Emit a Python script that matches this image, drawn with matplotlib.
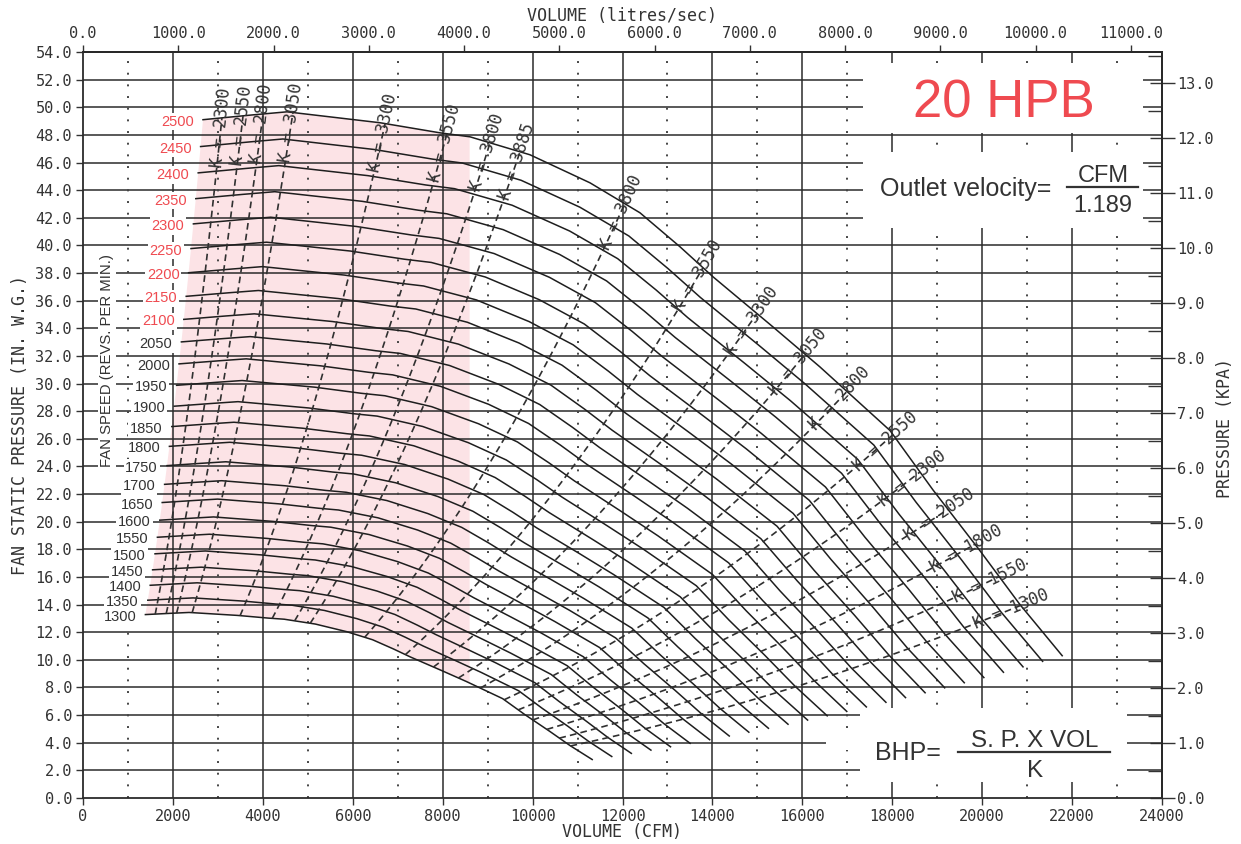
import numpy as np
import matplotlib
matplotlib.use("Agg")
import matplotlib.pyplot as plt
from matplotlib.patches import Polygon, Rectangle
from matplotlib.ticker import FormatStrFormatter, MultipleLocator

# ---------------- data ----------------
speeds = [1300, 1350, 1400, 1450, 1500, 1550, 1600, 1650, 1700, 1750, 1800,
          1850, 1900, 1950, 2000, 2050, 2100, 2150, 2200, 2250, 2300, 2350,
          2400, 2450, 2500]
red_speeds = [2100, 2150, 2200, 2250, 2300, 2350, 2400, 2450, 2500]

# 2500 rpm fan curve (CFM, in. W.G.); other speeds follow the fan laws
base_speed = 2500
base_cfm = [2669, 3781, 4537, 6606, 7940, 8608, 9942, 11277, 12389, 13279,
            14012, 15347, 16393, 17950, 18906, 19951, 20841, 21780]
base_sp = [49.1, 49.45, 49.67, 48.88, 48.15, 47.86, 46.56, 44.53, 42.36, 39.9,
           37.73, 34.1, 31.2, 26.6, 22.3, 17.9, 14.0, 10.3]

# K lines: CFM where each dashed line meets the 2500 rpm curve
k_left_labels = [2300, 2550, 2800, 3050, 3300, 3550, 3800, 3885]
k_left_cfm = [3090, 3560, 4005, 4670, 6720, 8095, 9053, 9720]
k_right_labels = [3800, 3550, 3300, 3050, 2800, 2550, 2300, 2050, 1800, 1550, 1300]
k_right_cfm = [12050, 13790, 14991, 16059, 16993, 18016, 18617, 19239, 19840,
               20378, 20856]

pink_right_cfm = 8600

cfm_ticks = [0, 2000, 4000, 6000, 8000, 10000, 12000, 14000, 16000, 18000,
             20000, 22000, 24000]
sp_ticks = [0.0, 2.0, 4.0, 6.0, 8.0, 10.0, 12.0, 14.0, 16.0, 18.0, 20.0, 22.0,
            24.0, 26.0, 28.0, 30.0, 32.0, 34.0, 36.0, 38.0, 40.0, 42.0, 44.0,
            46.0, 48.0, 50.0, 52.0, 54.0]
ls_ticks = [0, 1000, 2000, 3000, 4000, 5000, 6000, 7000, 8000, 9000, 10000, 11000]
kpa_ticks = [0, 1, 2, 3, 4, 5, 6, 7, 8, 9, 10, 11, 12, 13]
CFM_PER_LS = 2.1189
IN_PER_KPA = 3.98

# ---------------- style ----------------
W, H = 1241, 844
GRID = '#2b2b2b'
CURVE = '#1e1e1e'
DASH = '#303030'
TXT = '#333333'
RED = '#ef4a50'
PINK = '#fce3e6'
MONO = 'DejaVu Sans Mono'
SANS = 'Liberation Sans'

plt.rcParams['font.family'] = MONO

fig = plt.figure(figsize=(W / 100, H / 100), dpi=100)
fig.patch.set_facecolor('white')
ax = fig.add_axes([83 / W, 46 / H, 1079 / W, 746 / H])
ax.set_xlim(0, 24000)
ax.set_ylim(0, 54)


def fx(px):
    return px / W


def fy(py):
    return 1 - py / H


def pix2data(px, py):
    return (px - 83) / 1079 * 24000, (798 - py) / 746 * 54


# grid
for y in sp_ticks[1:-1]:
    ax.axhline(y, color=GRID, lw=1.1, zorder=1)
for x in range(2000, 24000, 2000):
    ax.axvline(x, color=GRID, lw=1.1, zorder=1)
for x in range(1000, 24000, 2000):
    ax.axvline(x, color='#444444', lw=1.4, ls=(0, (1, 5)), zorder=1)

bq = np.array(base_cfm, float)
bp = np.array(base_sp, float)
r_lo = speeds[0] / base_speed

# pink region
top_q = [q for q in base_cfm if q < pink_right_cfm] + [pink_right_cfm]
top_p = list(np.interp(top_q, bq, bp))
lo_q = r_lo * bq
lo_p = r_lo ** 2 * bp
lo_right_p = np.interp(pink_right_cfm, lo_q, lo_p)
poly = list(zip(top_q, top_p))
poly.append((pink_right_cfm, lo_right_p))
sel = [(q, p) for q, p in zip(lo_q, lo_p) if q < pink_right_cfm]
poly += sel[::-1]
for n in speeds:
    r = n / base_speed
    poly.append((r * bq[0], r ** 2 * bp[0]))
ax.add_patch(Polygon(poly, closed=True, fc=PINK, ec='none', zorder=0.5))

# fan curves + speed labels
for n in speeds:
    r = n / base_speed
    ax.plot(r * bq, r ** 2 * bp, color=CURVE, lw=1.1, zorder=2)
    ax.annotate(str(n), xy=(r * bq[0], r ** 2 * bp[0]), xytext=(-9, -2),
                textcoords='offset pixels', ha='right', va='center',
                fontsize=10.5, family=SANS,
                color=RED if n in red_speeds else TXT, zorder=6,
                bbox=dict(boxstyle='square,pad=0.12', fc='white', ec='none'))

# K lines
fig.canvas.draw()
for lab, qt in list(zip(k_left_labels, k_left_cfm)) + list(zip(k_right_labels, k_right_cfm)):
    pt = np.interp(qt, bq, bp)
    c = pt / qt ** 2
    q = np.linspace(r_lo * qt, qt, 80)
    ax.plot(q, c * q ** 2, color=DASH, lw=1.2, ls=(0, (4, 2.5)), zorder=2.5)
    p0 = ax.transData.transform((qt, pt))
    p1 = ax.transData.transform((qt * 1.002, c * (qt * 1.002) ** 2))
    d = p1 - p0
    d = d / np.hypot(*d)
    ang = np.degrees(np.arctan2(d[1], d[0]))
    cen = p0 - 10 * d
    cq, cp = ax.transData.inverted().transform(cen)
    ax.text(cq, cp, f'K = {lab}', rotation=ang, rotation_mode='anchor',
            ha='center', va='center', fontsize=12, color=TXT, zorder=5)

# white boxes
for (x0, y0, x1, y1) in [(863, 63, 1143, 133), (863, 152, 1143, 228),
                         (860, 708, 1127, 782), (826, 735, 860, 750)]:
    qa, pa = pix2data(x0, y1)
    qb, pb = pix2data(x1, y0)
    ax.add_patch(Rectangle((qa, pa), qb - qa, pb - pa, fc='white', ec='none',
                           zorder=4))

# axes styling
for s in ax.spines.values():
    s.set_linewidth(1.3)
    s.set_color(GRID)
ax.set_xticks(cfm_ticks)
ax.set_xticklabels([str(v) for v in cfm_ticks])
ax.set_yticks(sp_ticks)
ax.set_yticklabels(['%.1f' % v for v in sp_ticks])
ax.tick_params(axis='both', labelsize=11, colors=TXT, direction='out',
               length=5, width=1, pad=3)

secx = ax.secondary_xaxis('top', functions=(lambda q: q / CFM_PER_LS,
                                            lambda l: l * CFM_PER_LS))
secx.set_xticks(ls_ticks)
secx.xaxis.set_major_formatter(FormatStrFormatter('%.1f'))
secx.tick_params(labelsize=11, colors=TXT, direction='out', length=5, width=1,
                 pad=3)
secx.spines['top'].set_linewidth(1.3)

secy = ax.secondary_yaxis('right', functions=(lambda p: p / IN_PER_KPA,
                                              lambda k: k * IN_PER_KPA))
secy.set_yticks(kpa_ticks)
secy.yaxis.set_major_formatter(FormatStrFormatter('%.1f'))
secy.yaxis.set_minor_locator(MultipleLocator(0.5))
secy.tick_params(which='major', labelsize=11, colors=TXT, direction='inout',
                 length=18, width=1, pad=2)
secy.tick_params(which='minor', direction='in', length=10, width=1, colors=TXT)
secy.spines['right'].set_linewidth(1.3)

# axis titles
fig.text(fx(622), fy(16), 'VOLUME (litres/sec)', ha='center', va='center',
         fontsize=12, color=TXT)
fig.text(fx(622), fy(832), 'VOLUME (CFM)', ha='center', va='center',
         fontsize=12, color=TXT)
fig.text(fx(20), fy(425), 'FAN STATIC PRESSURE (IN. W.G.)', ha='center',
         va='center', rotation=90, fontsize=12, color=TXT)
fig.text(fx(1225), fy(428), 'PRESSURE (KPA)', ha='center', va='center',
         rotation=90, fontsize=12, color=TXT)
fig.text(fx(107), fy(361), 'FAN SPEED (REVS. PER MIN.)', ha='center',
         va='center', rotation=90, fontsize=10.7, family=SANS, color=TXT,
         zorder=6, bbox=dict(boxstyle='square,pad=0.15', fc='white', ec='none'))

# annotation boxes text
fig.text(fx(1004), fy(103), '20 HPB', ha='center', va='center', fontsize=38,
         family=SANS, color=RED)
fig.text(fx(880), fy(196), 'Outlet velocity=', ha='left', va='baseline',
         fontsize=18, family=SANS, color=TXT)
fig.text(fx(1103), fy(182), 'CFM', ha='center', va='baseline', fontsize=17,
         family=SANS, color=TXT)
fig.text(fx(1103), fy(212), '1.189', ha='center', va='baseline', fontsize=17,
         family=SANS, color=TXT)
fig.add_artist(plt.Line2D([fx(1067), fx(1138)], [fy(187), fy(187)], lw=1.6,
                          color=TXT, transform=fig.transFigure))
fig.text(fx(875), fy(760), 'BHP=', ha='left', va='baseline', fontsize=18,
         family=SANS, color=TXT)
fig.text(fx(1035), fy(747), 'S. P. X VOL', ha='center', va='baseline',
         fontsize=17.5, family=SANS, color=TXT)
fig.text(fx(1035), fy(777), 'K', ha='center', va='baseline', fontsize=17.5,
         family=SANS, color=TXT)
fig.add_artist(plt.Line2D([fx(958), fx(1110)], [fy(752), fy(752)], lw=1.6,
                          color=TXT, transform=fig.transFigure))

fig.savefig('out.png', dpi=100, facecolor='white')
